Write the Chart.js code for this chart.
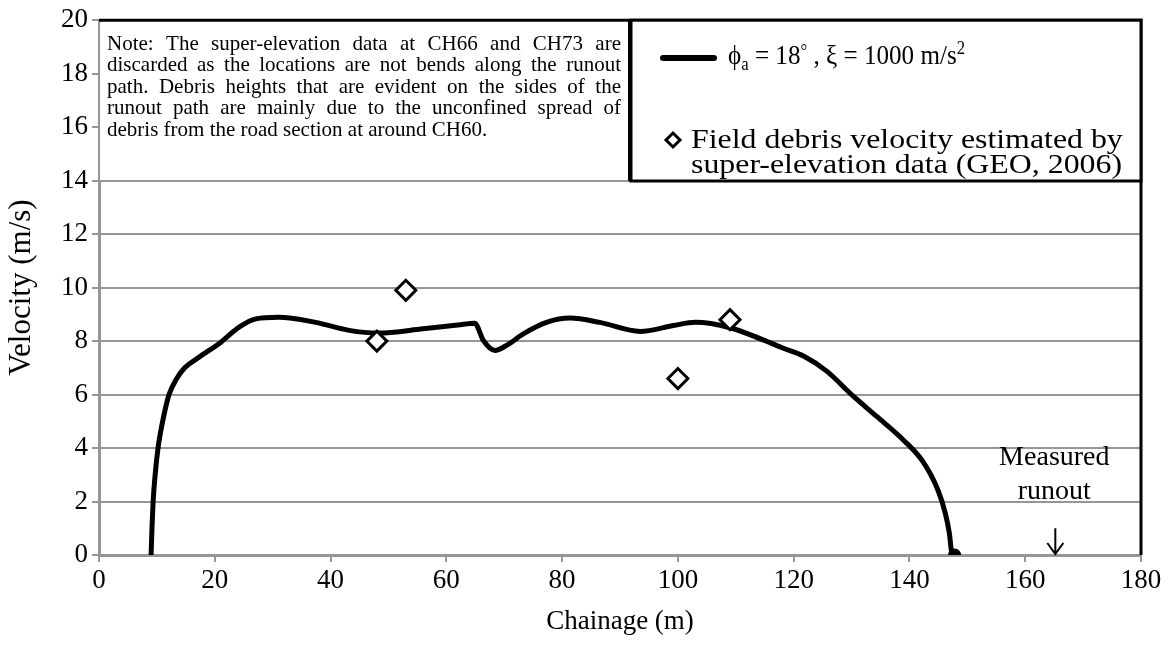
<!DOCTYPE html>
<html lang="en">
<head>
  <meta charset="UTF-8" />
  <title>Velocity vs Chainage</title>
  <script src="https://cdn.jsdelivr.net/npm/chart.js"></script>
  <style>
    body { margin: 0; background: white; }
    #chart { display: block; }
  </style>
</head>
<body>
  <canvas id="chart" width="1173" height="646"></canvas>

  <script>
    // simulated velocity curve (phi_a = 18 deg, xi = 1000 m/s2)
    const curveX = [9, 9.15, 9.35, 9.7, 10.2, 11, 12.1, 13.3, 14.8, 17.3, 21, 24.2, 27.1, 31, 37.4, 43.2,
      48.2, 56, 62, 64.9, 66.4, 68.4, 70.4, 73.3, 77.3, 81.4, 86.5, 93.5, 99.2, 103, 109, 114.2,
      118, 121.7, 125.7, 130.3, 134.3, 138.9, 142.3, 144.9, 146.2, 146.9, 147.3, 147.8];
    const curveY = [0, 1, 2, 3, 4, 5, 6, 6.55, 7, 7.4, 7.95, 8.52, 8.83, 8.89, 8.7, 8.4,
      8.3, 8.46, 8.6, 8.67, 8.02, 7.65, 7.84, 8.27, 8.7, 8.86, 8.7, 8.36, 8.58, 8.7, 8.5, 8.09,
      7.75, 7.44, 6.875, 5.94, 5.19, 4.31, 3.5, 2.44, 1.56, 0.81, 0.1, 0];

    // field velocities from super-elevation (GEO, 2006)
    const fieldX = [48, 53, 100, 109];
    const fieldY = [8.0, 9.9, 6.6, 8.8];

    const xTicks = [0, 20, 40, 60, 80, 100, 120, 140, 160, 180];
    const yTicks = [0, 2, 4, 6, 8, 10, 12, 14, 16, 18, 20];

    const runoutX = 165.2;

    const noteLines = [
      "Note: The super-elevation data at CH66 and CH73 are",
      "discarded as the locations are not bends along the runout",
      "path.  Debris heights that are evident on the sides of the",
      "runout path are mainly due to the unconfined spread of",
      "debris from the road section at around CH60."
    ];

    const SERIF = "'Liberation Serif', 'Times New Roman', serif";
    const GRID = "#969696";

    function justify(ctx, text, x, y, width) {
      const words = text.split(/\s+/);
      const total = words.reduce((s, w) => s + ctx.measureText(w).width, 0);
      const gap = (width - total) / (words.length - 1);
      let cx = x;
      words.forEach(w => {
        ctx.fillText(w, cx, y);
        cx += ctx.measureText(w).width + gap;
      });
    }

    // text drawn a bit wider than the font, like the original figure
    function wideText(ctx, text, x, y, sx) {
      ctx.save();
      ctx.translate(x, y);
      ctx.scale(sx, 1);
      ctx.fillText(text, 0, 0);
      ctx.restore();
      return ctx.measureText(text).width * sx;
    }

    const boxes = {
      id: "boxes",
      afterDatasetsDraw(chart) {
        const ctx = chart.ctx;
        const a = chart.chartArea;
        const xs = chart.scales.x, ys = chart.scales.y;
        ctx.save();

        // frame on top / right
        ctx.strokeStyle = "#000";
        ctx.lineWidth = 3;
        ctx.beginPath();
        ctx.moveTo(a.left, a.top);
        ctx.lineTo(a.right, a.top);
        ctx.lineTo(a.right, a.bottom);
        ctx.stroke();

        // note box
        const noteR = 629, boxB = 181;
        ctx.fillStyle = "#fff";
        ctx.fillRect(a.left + 1, a.top + 2, noteR - a.left - 1, boxB - a.top - 2);
        ctx.strokeStyle = GRID;
        ctx.lineWidth = 2;
        ctx.beginPath();
        ctx.moveTo(a.left, boxB);
        ctx.lineTo(noteR, boxB);
        ctx.stroke();
        ctx.strokeStyle = "#000";
        ctx.beginPath();
        ctx.moveTo(noteR, a.top);
        ctx.lineTo(noteR, boxB);
        ctx.stroke();

        ctx.fillStyle = "#000";
        ctx.font = "21px " + SERIF;
        ctx.textBaseline = "middle";
        ctx.textAlign = "left";
        noteLines.forEach((ln, i) => {
          const y = 44 + i * 21.5;
          if (i < noteLines.length - 1) justify(ctx, ln, 107, y, 514);
          else ctx.fillText(ln, 107, y);
        });

        // legend box
        const lgL = 631;
        ctx.fillStyle = "#fff";
        ctx.fillRect(lgL, a.top, a.right - lgL, boxB - a.top);
        ctx.strokeStyle = "#000";
        ctx.lineWidth = 3;
        ctx.strokeRect(lgL, a.top, a.right - lgL, boxB - a.top);

        ctx.lineWidth = 6;
        ctx.lineCap = "round";
        ctx.beginPath();
        ctx.moveTo(663, 58);
        ctx.lineTo(714, 58);
        ctx.stroke();

        ctx.fillStyle = "#000";
        let cx = 728;
        const part = (t, size, dy) => {
          ctx.font = size + "px " + SERIF;
          cx += wideText(ctx, t, cx, 57 + dy, 0.93);
        };
        part("\u03D5", 27, 0);
        part("a", 18, 8);
        part(" = 18", 27, 0);
        part("\u00B0", 18, -5);
        part(" , \u03BE = 1000 m/s", 27, 0);
        part("2", 18, -8);

        // diamond marker
        ctx.lineWidth = 3;
        ctx.lineCap = "butt";
        ctx.beginPath();
        ctx.moveTo(673, 133);
        ctx.lineTo(680, 140);
        ctx.lineTo(673, 147);
        ctx.lineTo(666, 140);
        ctx.closePath();
        ctx.fillStyle = "#fff";
        ctx.fill();
        ctx.stroke();

        ctx.fillStyle = "#000";
        ctx.font = "27px " + SERIF;
        wideText(ctx, "Field debris velocity estimated by", 691, 141, 1.18);
        wideText(ctx, "super-elevation data (GEO, 2006)", 691, 166, 1.18);

        // measured runout annotation
        const px = xs.getPixelForValue(runoutX);
        ctx.font = "28px " + SERIF;
        ctx.textAlign = "center";
        ctx.fillText("Measured", px - 1, 458);
        ctx.fillText("runout", px - 1, 492);
        const y0 = ys.getPixelForValue(0), y1 = ys.getPixelForValue(1);
        ctx.lineWidth = 2;
        ctx.beginPath();
        ctx.moveTo(px, y1);
        ctx.lineTo(px, y0 - 1);
        ctx.moveTo(px - 8, y0 - 12);
        ctx.lineTo(px, y0 - 1);
        ctx.lineTo(px + 8, y0 - 12);
        ctx.stroke();

        ctx.restore();
      }
    };

    new Chart(document.getElementById("chart"), {
      type: "scatter",
      data: {
        datasets: [
          {
            label: "phi",
            data: curveX.map((x, i) => ({ x: x, y: curveY[i] })),
            showLine: true,
            borderColor: "#000",
            backgroundColor: "#000",
            borderWidth: 5,
            cubicInterpolationMode: "monotone",
            pointRadius: ctx => ctx.dataIndex === curveX.length - 1 ? 4 : 0,
            order: 2
          },
          {
            label: "field",
            data: fieldX.map((x, i) => ({ x: x, y: fieldY[i] })),
            pointStyle: "rectRot",
            pointRadius: 10,
            borderWidth: 3,
            borderColor: "#000",
            backgroundColor: "#fff",
            order: 1
          }
        ]
      },
      options: {
        responsive: false,
        animation: false,
        layout: { padding: { top: 19, right: 32, left: 0, bottom: 0 } },
        plugins: { legend: { display: false }, tooltip: { enabled: false } },
        scales: {
          x: {
            type: "linear",
            min: 0, max: 180,
            afterBuildTicks: s => { s.ticks = xTicks.map(v => ({ value: v })); },
            afterFit: s => { s.height = 91; },
            grid: { drawOnChartArea: false, drawTicks: true, tickLength: 7, color: GRID, lineWidth: 2 },
            border: { color: GRID, width: 3 },
            ticks: { color: "#000", font: { family: SERIF, size: 27 }, padding: 3 },
            title: { display: true, text: "Chainage (m)", color: "#000", font: { family: SERIF, size: 27 }, padding: { top: 0, bottom: 8 } }
          },
          y: {
            min: 0, max: 20,
            afterBuildTicks: s => { s.ticks = yTicks.map(v => ({ value: v })); },
            afterFit: s => { s.width = 99; },
            grid: { color: GRID, lineWidth: 2, tickLength: 7 },
            border: { color: GRID, width: 3 },
            ticks: { color: "#000", font: { family: SERIF, size: 27 }, padding: 4 },
            title: { display: true, text: "Velocity (m/s)", color: "#000", font: { family: SERIF, size: 31 }, padding: { top: 3, bottom: 0 } }
          }
        }
      },
      plugins: [boxes]
    });
  </script>
</body>
</html>
